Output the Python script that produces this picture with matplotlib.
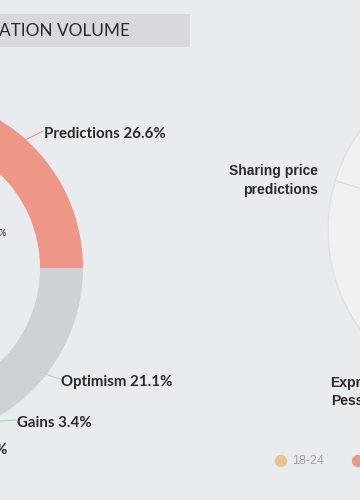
import numpy as np
import matplotlib
matplotlib.use("Agg")
import matplotlib.pyplot as plt
from matplotlib.patches import Rectangle

# ---------------- data ----------------
title_text = "ATION VOLUME"
donut_labels = ["Predictions", "Optimism", "Gains", "Other"]
donut_values = [26.6, 21.1, 3.4, 48.9]
donut_colors = ["#ef9787", "#cfd2d5", "#a8dcc2", "#f1c79b"]

pie_labels = ["Expressing\nPessimism", "Other A", "Other B", "Sharing price\npredictions"]
pie_values = [38, 22, 20, 20]

legend_labels = ["18-24", "25-34"]
legend_colors = ["#eac28f", "#ef9787"]

BG = "#e9ecef"
TXT = "#2a2a2a"

W, H = 360, 500
fig = plt.figure(figsize=(3.6, 5.0), dpi=100)
fig.patch.set_facecolor(BG)
ax = fig.add_axes([0, 0, 1, 1])
ax.set_facecolor(BG)

def Y(y):
    return H - y

# ---------------- title bar ----------------
ax.add_patch(Rectangle((-5, Y(47)), 195, 33, facecolor="#d9d8dd", edgecolor="none", zorder=1))
ax.text(-1, Y(31), title_text, fontsize=12.4, family=["Lato", "DejaVu Sans"],
        color=TXT, va="center", ha="left", zorder=2)

# ---------------- left donut ----------------
cx, cy, R, ring = -90, Y(268), 173, 43
start = donut_values[0] * 3.6
ax.pie(donut_values, colors=donut_colors, startangle=start, counterclock=False,
       center=(cx, cy), radius=R, frame=True,
       wedgeprops=dict(width=ring, edgecolor="none"))

fracs = np.array(donut_values) / sum(donut_values)
ends = start - np.cumsum(fracs) * 360
mids = ends + fracs * 360 / 2
lab_fp = dict(fontsize=10.8, family=["Lato", "DejaVu Sans"], fontweight="bold", color=TXT)
rlab_fp = dict(fontsize=10, family=["Liberation Sans", "DejaVu Sans"], fontweight="bold", color=TXT)

def edge_pt(a):
    r = np.deg2rad(a)
    return cx + R * np.cos(r), cy + R * np.sin(r)

# Predictions
x0, y0 = edge_pt(mids[0])
ax.plot([x0, 43], [y0, Y(131)], color=donut_colors[0], lw=0.8, zorder=3)
ax.text(44, Y(134), f"{donut_labels[0]} {donut_values[0]}%", va="center", ha="left", **lab_fp)
# Optimism
x0, y0 = edge_pt(mids[1])
ax.plot([x0, 60], [y0, Y(379)], color="#c8cbce", lw=0.8, zorder=3)
ax.text(61, Y(382), f"{donut_labels[1]} {donut_values[1]}%", va="center", ha="left", **lab_fp)
# Gains
x0, y0 = edge_pt(mids[2])
ax.plot([x0, -20, 16], [y0, Y(422), Y(420)], color="#9fd8b9", lw=0.8, zorder=3)
ax.text(17, Y(423), f"{donut_labels[2]} {donut_values[2]}%", va="center", ha="left", **lab_fp)

# partially visible labels at the left edge
ax.text(6, Y(233), "%", fontsize=6.5, family=["Lato", "DejaVu Sans"], color=TXT, va="center", ha="right")
ax.text(7, Y(450), "%", va="center", ha="right", **lab_fp)

# ---------------- right pie ----------------
pcx, pcy, PR = 497, Y(230), 169
ax.pie(pie_values, startangle=163, counterclock=True, center=(pcx, pcy), radius=PR,
       colors=["#eff1f3"] * len(pie_values), frame=True,
       wedgeprops=dict(edgecolor="#dde0e4", linewidth=0.9))

ax.text(318, Y(180.5), pie_labels[3], ha="right", va="center", linespacing=1.42, **rlab_fp)
ax.text(368, Y(392), pie_labels[0], ha="center", va="center", linespacing=1.42, **rlab_fp)

# ---------------- legend ----------------
for i, (lab, col) in enumerate(zip(legend_labels, legend_colors)):
    lx = 281 + i * 77
    ax.scatter([lx], [Y(461)], s=78, color=col, edgecolors="none", zorder=3)
    ax.text(lx + 11, Y(461), lab, fontsize=9, family=["Liberation Sans", "DejaVu Sans"],
            color="#a0a0a0", va="center", ha="left")

ax.set_xlim(0, W)
ax.set_ylim(0, H)
ax.set_aspect("auto")
ax.axis("off")

fig.savefig("out.png", dpi=100, facecolor=BG)
